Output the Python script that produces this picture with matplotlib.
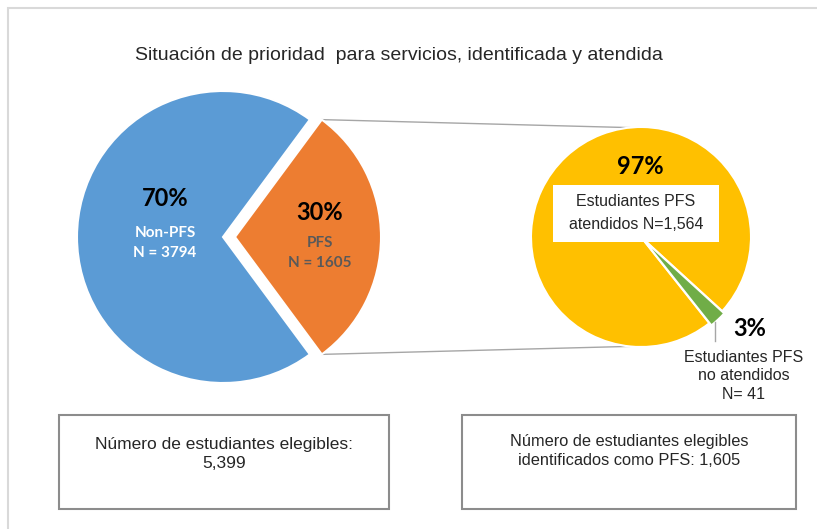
import math

import matplotlib

matplotlib.use("Agg")
import matplotlib.pyplot as plt
from matplotlib import font_manager
from matplotlib.patches import Rectangle


W, H = 817, 529

TITLE = "Situación de prioridad  para servicios, identificada y atendida"

main_labels = ["Non-PFS\nN = 3794", "PFS\nN = 1605"]
main_counts = [3794, 1605]
main_pct = ["70%", "30%"]
main_colors = ["#5B9BD5", "#ED7D31"]

pfs_labels = ["Estudiantes PFS\natendidos N=1,564", "Estudiantes PFS\nno atendidos\nN= 41"]
pfs_counts = [1564, 41]
pfs_pct = ["97%", "3%"]
pfs_colors = ["#FFC000", "#70AD47"]

box_texts = [
    "Número de estudiantes elegibles:\n5,399",
    "Número de estudiantes elegibles\nidentificados como PFS: 1,605",
]


def _pick(families: list[str]) -> str:
    for fam in families:
        try:
            font_manager.findfont(font_manager.FontProperties(family=fam), fallback_to_default=False)
            return fam
        except ValueError:
            continue
    return "DejaVu Sans"


NARROW = _pick(["Liberation Sans Narrow", "Arial Narrow", "Liberation Sans"])
BOLD = _pick(["Lato", "Open Sans", "DejaVu Sans"])


def py(y: float) -> float:
    # image rows -> data y
    return H - y


fig = plt.figure(figsize=(W / 100, H / 100), dpi=100)
ax = fig.add_axes([0, 0, 1, 1])

# main pie: PFS slice centred on the right, pulled out
c1 = (223, py(237))
r1 = 146
pfs_frac = main_counts[1] / sum(main_counts)
half = 180 * pfs_frac
shift = 12
ax.pie(main_counts, colors=main_colors, center=c1, radius=r1, startangle=half,
       explode=[0, shift], wedgeprops=dict(edgecolor="white", linewidth=1.5))

# second pie: breakdown of PFS
c2 = (641, py(237))
r2 = 110
green_mid = -47
no_frac = pfs_counts[1] / sum(pfs_counts)
ax.pie(pfs_counts, colors=pfs_colors, center=c2, radius=r2,
       startangle=green_mid + 180 * no_frac, explode=[0, 3],
       wedgeprops=dict(edgecolor="white", linewidth=1.5))

# connector lines between the pies
for sign in (1, -1):
    a1 = math.radians(sign * half)
    a2 = math.radians(sign * 96)
    x0 = c1[0] + shift + r1 * math.cos(a1)
    y0 = c1[1] + r1 * math.sin(a1)
    x1 = c2[0] + r2 * math.cos(a2)
    y1 = c2[1] + r2 * math.sin(a2)
    ax.plot([x0, x1], [y0, y1], color="#a6a6a6", linewidth=1, zorder=0)

# leader for the small slice
gm = math.radians(green_mid)
lx = c2[0] + (r2 + 3) * math.cos(gm) - 3
ly = c2[1] + (r2 + 3) * math.sin(gm)
ax.plot([lx, lx], [ly - 2, py(341)], color="#a6a6a6", linewidth=1)

# labels on main pie
ax.text(165, py(198), main_pct[0], ha="center", va="center", fontsize=17,
        fontweight="bold", family=BOLD, color="black")
ax.text(165, py(243), main_labels[0], ha="center", va="center", fontsize=11,
        fontweight="bold", family=BOLD, color="white", linespacing=1.55)
ax.text(320, py(212), main_pct[1], ha="center", va="center", fontsize=17,
        fontweight="bold", family=BOLD, color="black")
ax.text(320, py(253), main_labels[1], ha="center", va="center", fontsize=11,
        fontweight="bold", family=BOLD, color="#595959", linespacing=1.55)

# labels on the PFS pie
ax.text(640, py(167), pfs_pct[0], ha="center", va="center", fontsize=17,
        fontweight="bold", family=BOLD, color="black")
ax.add_patch(Rectangle((553, py(242)), 166, 57, facecolor="white", edgecolor="none"))
ax.text(636, py(213), pfs_labels[0], ha="center", va="center", fontsize=11.5,
        family=NARROW, color="#262626", linespacing=1.6)
ax.text(750, py(328), pfs_pct[1], ha="center", va="center", fontsize=17,
        fontweight="bold", family=BOLD, color="black")
ax.text(744, py(376), pfs_labels[1], ha="center", va="center", fontsize=11.5,
        family=NARROW, color="#262626", linespacing=1.3)

ax.text(399, py(55), TITLE, ha="center", va="center", fontsize=14, family=NARROW, color="#262626")

# bottom boxes
ax.add_patch(Rectangle((59, py(509)), 330, 94, facecolor="none", edgecolor="#8c8c8c", linewidth=1.5))
ax.add_patch(Rectangle((462, py(509)), 334, 94, facecolor="none", edgecolor="#8c8c8c", linewidth=1.5))
ax.text(224, py(454), box_texts[0], ha="center", va="center", fontsize=12.5, family=NARROW,
        color="#262626", linespacing=1.38)
ax.text(629, py(451), box_texts[1], ha="center", va="center", fontsize=11.8, family=NARROW,
        color="#262626", linespacing=1.28)

# outer chart frame, runs off the right and bottom
ax.add_patch(Rectangle((8, -20), W + 20, H - 8 + 20, facecolor="none", edgecolor="#d9d9d9",
                       linewidth=1.5, clip_on=False))

ax.set_xlim(0, W)
ax.set_ylim(0, H)
ax.set_aspect("auto")
ax.axis("off")

fig.savefig("out.png", dpi=100)
